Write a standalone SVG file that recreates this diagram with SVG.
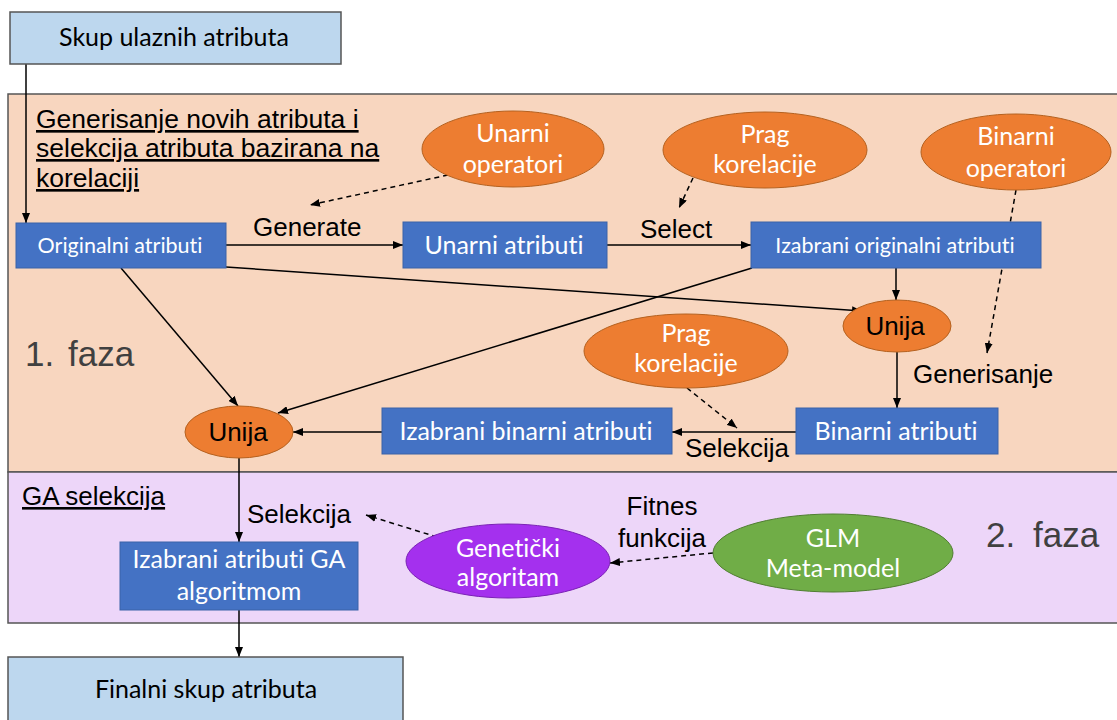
<svg xmlns="http://www.w3.org/2000/svg" width="1117" height="720" viewBox="0 0 1117 720">
<defs>
<marker id="arr" viewBox="0 0 10 8" refX="10" refY="4" markerWidth="10" markerHeight="8" markerUnits="userSpaceOnUse" orient="auto"><path d="M0,0 L10,4 L0,8 z" fill="#000"/></marker>
<style>
.lbl{font-family:"Liberation Sans",Arial,sans-serif;font-size:26px;fill:#000}
.ttl{font-size:26.5px}
.bt{font-family:Lato,"Open Sans",sans-serif;font-size:25px;fill:#fff;text-anchor:middle;font-variant-ligatures:none}
.bk{font-family:Lato,"Open Sans",sans-serif;font-size:25px;fill:#000;text-anchor:middle;font-variant-ligatures:none}
.sm{font-size:21.5px}
.box{fill:#4472C4;stroke:#3A62A8;stroke-width:1}
.lb{fill:#BDD7EE;stroke:#555;stroke-width:1.5}
.or{fill:#ED7D31;stroke:#B5611F;stroke-width:1}
.ln{stroke:#000;stroke-width:1.5;fill:none;marker-end:url(#arr)}
.ds{stroke:#000;stroke-width:1.5;fill:none;stroke-dasharray:5,4;marker-end:url(#arr)}
.faza{font-family:"Liberation Sans",Arial,sans-serif;font-size:35px;fill:#404040}
</style>
</defs>
<rect id="phase1" x="8" y="94" width="1115" height="378" fill="#F8D6BF" stroke="#555" stroke-width="1.5"/>
<rect id="phase2" x="8" y="472" width="1115" height="151" fill="#EDD6F9" stroke="#555" stroke-width="1.5"/>
<g id="title1"><text class="lbl ttl" x="36" y="128" text-decoration="underline">Generisanje novih atributa i</text><text class="lbl ttl" x="36" y="157" text-decoration="underline">selekcija atributa bazirana na</text><text class="lbl ttl" x="36" y="187" text-decoration="underline">korelaciji</text></g>
<g id="title2"><text class="lbl" x="22" y="505" text-decoration="underline">GA selekcija</text></g>
<g id="faza1"><text class="faza" x="25" y="366">1.</text><text class="faza" x="68" y="366">faza</text></g>
<g id="faza2"><text class="faza" x="986" y="547">2.</text><text class="faza" x="1033" y="547">faza</text></g>
<g id="connectors">
<path class="ln" d="M26,64 L26,223"/>
<path class="ln" d="M226,245 L403,245"/>
<path class="ln" d="M607,245 L751,245"/>
<path class="ln" d="M226,267 L862,311"/>
<path class="ln" d="M896,268 L896,300"/>
<path class="ln" d="M897,352 L897,408"/>
<path class="ln" d="M796,432 L672,432"/>
<path class="ln" d="M382,432 L293,432"/>
<path class="ln" d="M121,268 L238,406"/>
<path class="ln" d="M752,268 L278,413"/>
<path class="ln" d="M239,458 L239,542"/>
<path class="ln" d="M239,610 L239,657"/>
<path class="ds" d="M448,175 L310,205"/>
<path class="ds" d="M693,178 L679,208"/>
<path class="ds" d="M1016,190 L987,353"/>
<path class="ds" d="M687,388 L737,428"/>
<path class="ds" d="M437,537 L366,515"/>
<path class="ds" d="M713,553 L610,563"/>
<text class="lbl" x="253" y="236">Generate</text>
<text class="lbl" x="640" y="238">Select</text>
<text class="lbl" x="913" y="383">Generisanje</text>
<text class="lbl" x="685" y="457">Selekcija</text>
<text class="lbl" x="247" y="523">Selekcija</text>
<text class="lbl" x="662" y="515" text-anchor="middle">Fitnes</text>
<text class="lbl" x="662" y="547" text-anchor="middle">funkcija</text>
</g>
<g id="skup"><rect class="lb" x="10" y="12" width="331" height="52"/><text class="bk" x="174" y="46">Skup ulaznih atributa</text></g>
<g id="originalni"><rect class="box" x="16" y="223" width="210" height="45"/><text class="bt sm" x="120" y="253">Originalni atributi</text></g>
<g id="unarni"><rect class="box" x="403" y="222" width="204" height="46"/><text class="bt" x="504" y="254">Unarni atributi</text></g>
<g id="izabraniorig"><rect class="box" x="751" y="222" width="290" height="46"/><text class="bt sm" x="895" y="253">Izabrani originalni atributi</text></g>
<g id="binarni"><rect class="box" x="796" y="408" width="202" height="46"/><text class="bt" x="896" y="440">Binarni atributi</text></g>
<g id="izabranibin"><rect class="box" x="382" y="408" width="290" height="46"/><text class="bt" x="526" y="440">Izabrani binarni atributi</text></g>
<g id="gabox"><rect class="box" x="120" y="542" width="238" height="68"/><text class="bt" x="239" y="568">Izabrani atributi GA</text><text class="bt" x="239" y="600">algoritmom</text></g>
<g id="finalni"><rect class="lb" x="8" y="657" width="395" height="70"/><text class="bk" x="206" y="698">Finalni skup atributa</text></g>
<g id="unarniop"><ellipse class="or" cx="513" cy="149" rx="91" ry="38"/><text class="bt" x="513" y="142">Unarni</text><text class="bt" x="513" y="173">operatori</text></g>
<g id="prag1"><ellipse class="or" cx="765" cy="150" rx="102" ry="38"/><text class="bt" x="765" y="143">Prag</text><text class="bt" x="765" y="173">korelacije</text></g>
<g id="binarniop"><ellipse class="or" cx="1016" cy="152" rx="95" ry="38"/><text class="bt" x="1016" y="145">Binarni</text><text class="bt" x="1016" y="177">operatori</text></g>
<g id="prag2"><ellipse class="or" cx="686" cy="351" rx="102" ry="37"/><text class="bt" x="686" y="342">Prag</text><text class="bt" x="686" y="372">korelacije</text></g>
<g id="unija1"><ellipse class="or" cx="897" cy="326" rx="54" ry="26"/><text class="lbl" x="895" y="335" text-anchor="middle">Unija</text></g>
<g id="unija2"><ellipse class="or" cx="239" cy="432" rx="54" ry="26"/><text class="lbl" x="238" y="441" text-anchor="middle">Unija</text></g>
<g id="genetski"><ellipse cx="508" cy="561" rx="102" ry="37" fill="#A430EE" stroke="#7A22B5" stroke-width="1"/><text class="bt" x="508" y="557">Genetički</text><text class="bt" x="508" y="586">algoritam</text></g>
<g id="glm"><ellipse cx="833" cy="553" rx="120" ry="39" fill="#70AD47" stroke="#507E32" stroke-width="1"/><text class="bt" x="833" y="547">GLM</text><text class="bt" x="833" y="577">Meta-model</text></g>
</svg>
